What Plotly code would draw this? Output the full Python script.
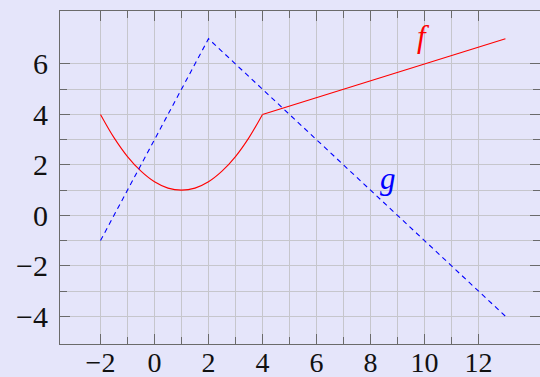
import plotly.graph_objects as go

# f: parabola part then straight part
f_curve_x = [-2, -1.5, -1, -0.5, 0, 0.5, 1, 1.5, 2, 2.5, 3, 3.5, 4]
f_curve_y = [4, 3.08, 2.33, 1.75, 1.33, 1.08, 1, 1.08, 1.33, 1.75, 2.33, 3.08, 4]
f_line_x = [4, 13]
f_line_y = [4, 7]
# g: dashed polyline
g_x = [-2, 2, 13]
g_y = [-1, 7, -4]

x_major = [-2, 0, 2, 4, 6, 8, 10, 12]
x_minor = [-1, 1, 3, 5, 7, 9, 11]
y_major = [-4, -2, 0, 2, 4, 6]
y_minor = [-3, -1, 1, 3, 5]

label_f = ("f", 9.97, 7.1)
label_g = ("g", 8.65, 1.45)

bg = "#e5e5fa"
grid = "#c6c6cc"
frame = "#6a6a6a"
font = "Liberation Serif"

fig = go.Figure()
fig.add_trace(go.Scatter(x=f_curve_x, y=f_curve_y, mode="lines",
                         line=dict(color="#ff0000", width=1.1, shape="spline", smoothing=1.0), hoverinfo="skip"))
fig.add_trace(go.Scatter(x=f_line_x, y=f_line_y, mode="lines",
                         line=dict(color="#ff0000", width=1.1), hoverinfo="skip"))
fig.add_trace(go.Scatter(x=g_x, y=g_y, mode="lines", line=dict(color="#0000ff", width=1.1, dash="5px,4px"), hoverinfo="skip"))

for txt, x, y, col in [(label_f[0], label_f[1], label_f[2], "#ff0000"), (label_g[0], label_g[1], label_g[2], "#0000ff")]:
    fig.add_annotation(x=x, y=y, text="<i>%s</i>" % txt, showarrow=False,
                       font=dict(family=font, size=31, color=col))

axis_common = dict(showline=True, linecolor=frame, linewidth=1, mirror="allticks",
                   ticks="inside", ticklen=10, tickcolor=frame, tickwidth=1,
                   showgrid=True, gridcolor=grid, gridwidth=1, zeroline=False, automargin=False)

fig.update_xaxes(range=[-3.5, 14.28], tickmode="array", tickvals=x_major,
                 ticktext=[str(v).replace("-", "\u2212") for v in x_major],
                 minor=dict(tickmode="array", tickvals=x_minor, ticks="inside", ticklen=7,
                            tickcolor=frame, showgrid=True, gridcolor=grid, gridwidth=1),
                 tickfont=dict(family=font, size=28, color="#111111"),
                 ticklabelstandoff=-7, **axis_common)
fig.update_yaxes(range=[-5.1, 8.1], tickmode="array", tickvals=y_major,
                 ticktext=[str(v).replace("-", "\u2212") for v in y_major],
                 minor=dict(tickmode="array", tickvals=y_minor, ticks="inside", ticklen=7,
                            tickcolor=frame, showgrid=True, gridcolor=grid, gridwidth=1),
                 tickfont=dict(family=font, size=30, color="#111111"),
                 ticklabelstandoff=5, **axis_common)

fig.update_layout(width=540, height=377, margin=dict(l=60, r=0, t=11, b=33),
                  paper_bgcolor=bg, plot_bgcolor=bg, showlegend=False)

fig.write_html("out.html", config={"displayModeBar": False, "staticPlot": True},
               post_script="document.body.style.margin='0';document.body.style.overflow='hidden';")
